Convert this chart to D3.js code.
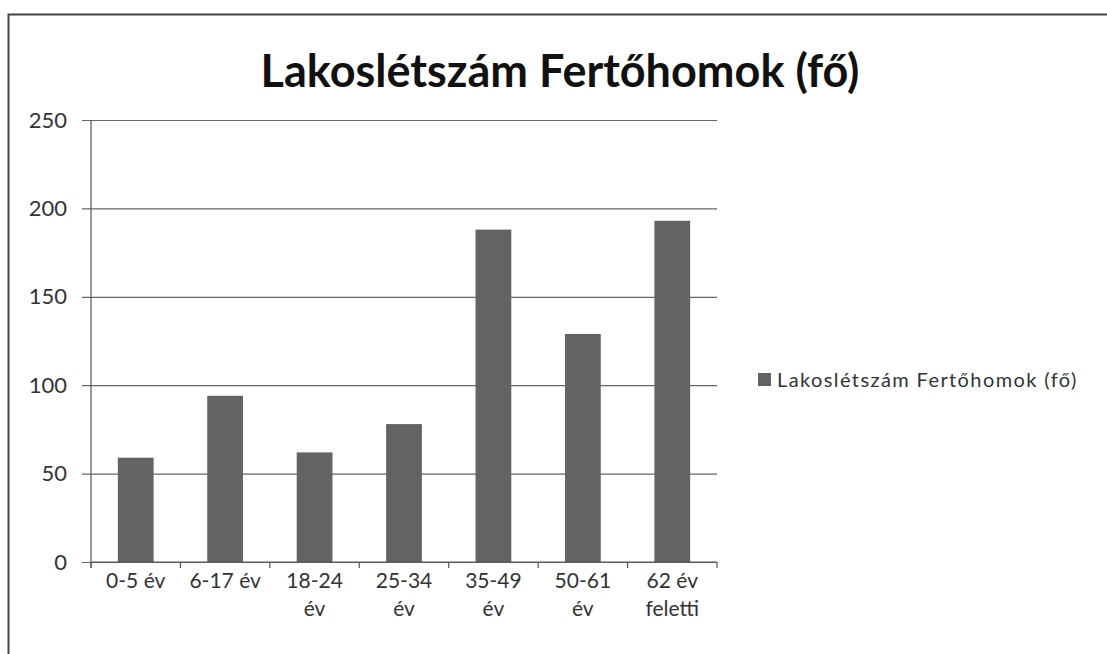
<!DOCTYPE html>
<html>
<head>
<meta charset="utf-8">
<script src="https://cdn.jsdelivr.net/npm/d3@7"></script>
<style>
  body { margin: 0; background: #fff; }
  text { font-family: Lato, "Open Sans", sans-serif; }
  .tick text { fill: #333; }
</style>
</head>
<body>
<div id="chart"></div>
<script>
// data
var categories = ["0-5 év", "6-17 év", "18-24 év", "25-34 év", "35-49 év", "50-61 év", "62 év feletti"];
var values = [59, 94, 62, 78, 188, 129, 193];
var yTicks = [0, 50, 100, 150, 200, 250];
var seriesName = "Lakoslétszám Fertőhomok (fő)";
var chartTitle = "Lakoslétszám Fertőhomok (fő)";

var svgWidth = 1107;
var svgHeight = 654;

var margin = { top: 120, right: 390, bottom: 92, left: 91 };
var width = svgWidth - margin.left - margin.right;
var height = svgHeight - margin.top - margin.bottom;

var svg = d3.select("#chart")
  .append("svg")
  .attr("width", svgWidth)
  .attr("height", svgHeight);

// chart frame (scanned page, right and bottom edges cut off)
svg.append("path")
  .attr("d", "M8.5," + svgHeight + " V14.5 H" + svgWidth)
  .attr("fill", "none")
  .attr("stroke", "#444")
  .attr("stroke-width", 2);

var chartGroup = svg.append("g")
  .attr("transform", `translate(${margin.left}, ${margin.top})`);

var data = categories.map((c, i) => ({ cat: c, value: values[i] }));

var xScale = d3.scaleBand()
  .domain(categories)
  .range([0, width])
  .paddingInner(0.6)
  .paddingOuter(0.3);

var yScale = d3.scaleLinear()
  .domain([0, 250])
  .range([height, 0]);

// gridlines + y axis
var yAxis = d3.axisLeft(yScale)
  .tickValues(yTicks)
  .tickSize(-width)
  .tickPadding(24);

var yG = chartGroup.append("g").call(yAxis);
yG.select(".domain").remove();
yG.selectAll(".tick line")
  .attr("x1", -9)
  .attr("stroke", "#666")
  .attr("stroke-width", 1.2);
yG.selectAll(".tick text")
  .attr("font-size", "22px");

// bars
chartGroup.selectAll("rect.bar")
  .data(data)
  .enter()
  .append("rect")
  .attr("class", "bar")
  .attr("x", d => xScale(d.cat))
  .attr("y", d => yScale(d.value))
  .attr("width", xScale.bandwidth())
  .attr("height", d => height - yScale(d.value))
  .attr("fill", "#636363");

// vertical axis line
chartGroup.append("line")
  .attr("x1", 0).attr("x2", 0)
  .attr("y1", 0).attr("y2", height + 6)
  .attr("stroke", "#555")
  .attr("stroke-width", 1.2);

// x axis line and ticks between categories
var boundaries = d3.range(categories.length + 1).map(i => i * width / categories.length);
var xG = chartGroup.append("g")
  .attr("transform", `translate(0, ${height})`);
xG.append("line")
  .attr("x1", 0).attr("x2", width)
  .attr("stroke", "#555")
  .attr("stroke-width", 1.2);
xG.selectAll("line.xt")
  .data(boundaries)
  .enter()
  .append("line")
  .attr("class", "xt")
  .attr("x1", d => d).attr("x2", d => d)
  .attr("y1", 0).attr("y2", 6)
  .attr("stroke", "#555")
  .attr("stroke-width", 1.2);

// category labels, wrapped like Excel does
var labelLines = {
  "0-5 év": ["0-5 év"],
  "6-17 év": ["6-17 év"],
  "18-24 év": ["18-24", "év"],
  "25-34 év": ["25-34", "év"],
  "35-49 év": ["35-49", "év"],
  "50-61 év": ["50-61", "év"],
  "62 év feletti": ["62 év", "feletti"]
};

var xLabels = xG.selectAll("text.xl")
  .data(categories)
  .enter()
  .append("text")
  .attr("class", "xl")
  .attr("text-anchor", "middle")
  .attr("font-size", "21px")
  .attr("fill", "#333")
  .attr("transform", d => `translate(${xScale(d) + xScale.bandwidth() / 2}, 26)`);

xLabels.selectAll("tspan")
  .data(d => labelLines[d])
  .enter()
  .append("tspan")
  .attr("x", 0)
  .attr("dy", (d, i) => i === 0 ? 0 : 28)
  .text(d => d);

// title
svg.append("text")
  .attr("x", 560)
  .attr("y", 87)
  .attr("text-anchor", "middle")
  .attr("font-size", "45px")
  .attr("font-weight", "bold")
  .attr("fill", "#111")
  .text(chartTitle);

// legend
var legend = svg.append("g")
  .attr("transform", "translate(758, 373)");
legend.append("rect")
  .attr("width", 13)
  .attr("height", 13)
  .attr("fill", "#636363");
legend.append("text")
  .attr("x", 19)
  .attr("y", 14)
  .attr("font-size", "20px")
  .attr("letter-spacing", "1.4px")
  .attr("fill", "#333")
  .text(seriesName);
</script>
</body>
</html>
